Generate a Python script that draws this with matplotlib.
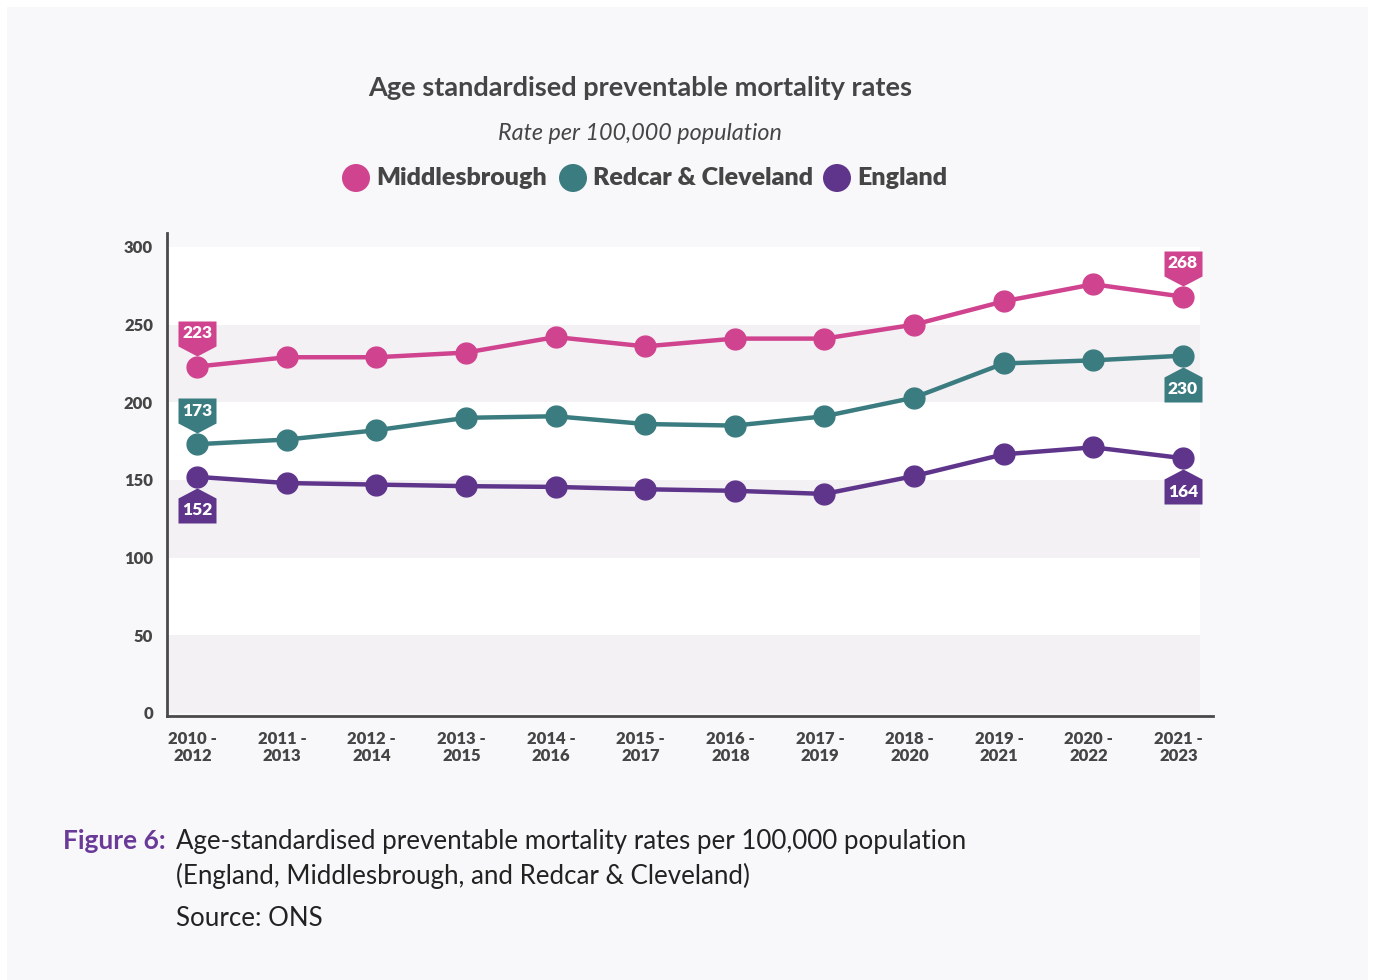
import numpy as np
import matplotlib
matplotlib.use("Agg")
import matplotlib.pyplot as plt
from matplotlib.path import Path
from matplotlib.patches import Rectangle, Ellipse

periods = ["2010 -\n2012", "2011 -\n2013", "2012 -\n2014", "2013 -\n2015", "2014 -\n2016",
           "2015 -\n2017", "2016 -\n2018", "2017 -\n2019", "2018 -\n2020", "2019 -\n2021",
           "2020 -\n2022", "2021 -\n2023"]
middlesbrough = [223, 229, 229, 232, 242, 236, 241, 241, 250, 265, 276, 268]
redcar = [173, 176, 182, 190, 191, 186, 185, 191, 203, 225, 227, 230]
england = [152, 148, 147, 146, 145.5, 144, 143, 141, 152.5, 166.5, 171, 164]

series = [("Middlesbrough", middlesbrough, "#d0438f"),
          ("Redcar & Cleveland", redcar, "#3b7c80"),
          ("England", england, "#5f358c")]
# end labels above (+1) or below (-1): (first, last)
label_side = {"Middlesbrough": (1, 1), "Redcar & Cleveland": (1, -1), "England": (-1, -1)}

bg = "#f8f8fa"
band = "#f3f1f4"
dark = "#454545"
font = "Lato"

fig = plt.figure(figsize=(13.75, 9.8), dpi=100, facecolor="white")
fig.patches.append(Rectangle((7 / 1375, 0), 1361 / 1375, 973 / 980, transform=fig.transFigure,
                             facecolor=bg, edgecolor="none", zorder=-10))

ax = fig.add_axes([167 / 1375, (980 - 716) / 980, (1213 - 167) / 1375, (716 - 233) / 980])
ax.set_facecolor(bg)
ax.set_xlim(-0.335, 11.335)
ax.set_ylim(-2, 309)

# alternating bands
for lo, hi, c in [(0, 50, band), (50, 100, "white"), (100, 150, band),
                  (150, 200, "white"), (200, 250, band), (250, 300, "white")]:
    ax.axhspan(lo, hi, xmin=0, xmax=(1200 - 167) / (1213 - 167), facecolor=c, edgecolor="none", zorder=0)

# tag markers pointing at the point
px = 0.72
def tag(s):
    verts = [(0, 11 * s), (19, 21 * s), (19, 46 * s), (-19, 46 * s), (-19, 21 * s), (0, 11 * s)]
    return Path(verts, [Path.MOVETO] + [Path.LINETO] * 4 + [Path.CLOSEPOLY])

x = np.arange(len(periods))
for name, vals, col in series:
    ax.plot(x, vals, color=col, lw=3.2, marker="o", ms=15, zorder=3, solid_capstyle="round")
    for idx, side in zip((0, len(vals) - 1), label_side[name]):
        ax.plot(x[idx], vals[idx], marker=tag(side), ms=2 * 46 * px, color=col,
                markeredgewidth=0, linestyle="none", zorder=4)
        ax.annotate(f"{vals[idx]:.0f}", (x[idx], vals[idx]), xytext=(0, 33.5 * px * side),
                    textcoords="offset points", ha="center", va="center", color="white",
                    fontsize=12.5, fontweight=800, family=font, zorder=5)

for sp in ["top", "right"]:
    ax.spines[sp].set_visible(False)
for sp in ["left", "bottom"]:
    ax.spines[sp].set_color("#4a4a4a")
    ax.spines[sp].set_linewidth(2)
ax.spines["left"].set_bounds(-2, 309)

ax.set_yticks(range(0, 301, 50))
ax.set_yticklabels([str(v) for v in range(0, 301, 50)])
ax.set_xticks(x - 0.05)
ax.set_xticklabels(periods)
ax.tick_params(length=0, colors=dark, labelsize=12)
ax.tick_params(axis="y", pad=10)
ax.tick_params(axis="x", pad=11)
for lab in ax.get_xticklabels() + ax.get_yticklabels():
    lab.set_fontweight(800)
    lab.set_family(font)
    lab.set_linespacing(1.05)

# titles
fig.text(640 / 1375, 1 - 88 / 980, "Age standardised preventable mortality rates", ha="center", va="center",
         fontsize=19.5, fontweight="bold", color=dark, family=font)
fig.text(640 / 1375, 1 - 133 / 980, "Rate per 100,000 population", ha="center", va="center",
         fontsize=16.8, style="italic", color=dark, family=font)

# legend
legend_x = [356, 573, 837]
for (name, vals, col), lx in zip(series, legend_x):
    fig.patches.append(Ellipse((lx / 1375, 1 - 178 / 980), 28 / 1375, 28 / 980,
                               transform=fig.transFigure, facecolor=col, edgecolor="none"))
    fig.text((lx + 20) / 1375, 1 - 178 / 980, name, ha="left", va="center", fontsize=18,
             fontweight=800, color=dark, family=font)

# caption
fig.text(63 / 1375, 1 - 841 / 980, "Figure 6:", ha="left", va="center", fontsize=19,
         fontweight="bold", color="#6a3a98", family=font)
fig.text(176 / 1375, 1 - 841 / 980, "Age-standardised preventable mortality rates per 100,000 population",
         ha="left", va="center", fontsize=18.6, color="#222222", family=font)
fig.text(176 / 1375, 1 - 876 / 980, "(England, Middlesbrough, and Redcar & Cleveland)",
         ha="left", va="center", fontsize=18.6, color="#222222", family=font)
fig.text(176 / 1375, 1 - 918 / 980, "Source: ONS", ha="left", va="center", fontsize=18.6,
         color="#222222", family=font)

fig.savefig("out.png", dpi=100, facecolor=fig.get_facecolor())
